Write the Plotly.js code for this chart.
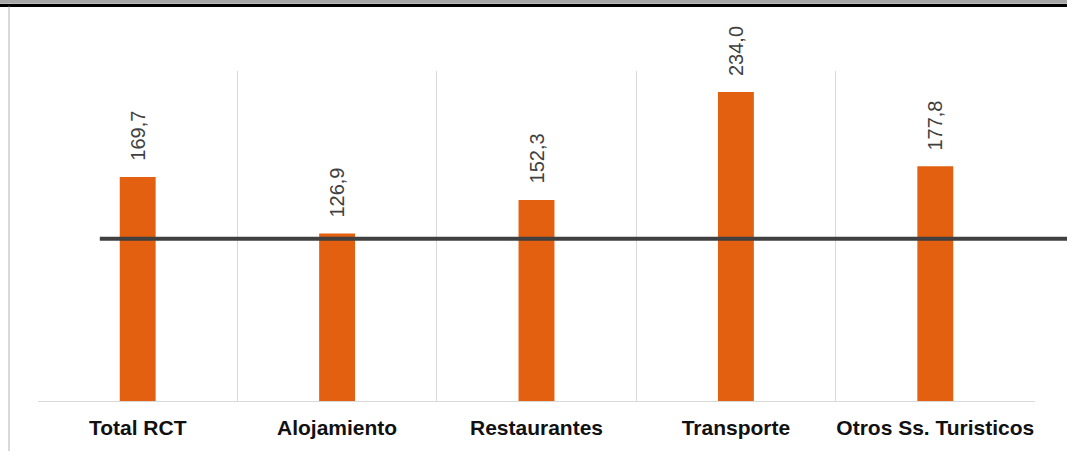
<!DOCTYPE html>
<html>
<head>
<meta charset="utf-8">
<script src="https://cdn.plot.ly/plotly-3.0.1.min.js"></script>
<style>
html,body{margin:0;padding:0;background:#fff;}
#chart{width:1067px;height:451px;}
</style>
</head>
<body>
<div id="chart"></div>
<script>
const categories = ["Total RCT", "Alojamiento", "Restaurantes", "Transporte", "Otros Ss. Turisticos"];
const values = [169.7, 126.9, 152.3, 234.0, 177.8];
const referenceValue = 123.0;

const fmt = v => v.toFixed(1).replace('.', ',');

const bar = {
  type: 'bar',
  x: categories,
  y: values,
  width: 0.18,
  marker: {color: '#E2600F'},
  hoverinfo: 'x+y'
};

const annotations = categories.map((c, i) => ({
  x: c, y: values[i], xref: 'x', yref: 'y',
  text: fmt(values[i]),
  textangle: -90,
  showarrow: false,
  yanchor: 'bottom',
  yshift: 14,
  font: {family: 'Liberation Sans, Arial, sans-serif', size: 20, color: '#404040'}
}));

const layout = {
  width: 1067, height: 451,
  margin: {l: 38, r: 32, t: 71, b: 50},
  paper_bgcolor: '#ffffff',
  plot_bgcolor: '#ffffff',
  showlegend: false,
  xaxis: {
    type: 'category',
    tickson: 'boundaries',
    showgrid: true,
    gridcolor: '#d9d9d9',
    gridwidth: 1,
    showline: true,
    linecolor: '#d9d9d9',
    linewidth: 1,
    ticks: '',
    tickangle: 0,
    automargin: false,
    ticklabelstandoff: 8,
    tickfont: {family: 'Liberation Sans, Arial, sans-serif', size: 21, color: '#111111', weight: 'bold'},
    fixedrange: true
  },
  yaxis: {
    range: [0, 250],
    showgrid: false,
    zeroline: false,
    showticklabels: false,
    showline: false,
    ticks: '',
    fixedrange: true
  },
  annotations: annotations,
  shapes: [
    {type: 'line', xref: 'paper', yref: 'y', x0: 0.062, x1: 1.04, y0: referenceValue, y1: referenceValue,
     line: {color: '#404040', width: 4}},
    {type: 'rect', xref: 'paper', yref: 'paper', x0: -0.05, x1: 1.04, y0: 1.2035, y1: 1.22,
     fillcolor: '#a6a6a6', line: {width: 0}},
    {type: 'line', xref: 'paper', yref: 'paper', x0: -0.05, x1: 1.04, y0: 1.1985, y1: 1.1985,
     line: {color: '#000000', width: 3}},
    {type: 'line', xref: 'paper', yref: 'paper', x0: -0.0291, x1: -0.0291, y0: -0.2, y1: 1.195,
     line: {color: '#d9d9d9', width: 2}}
  ]
};

Plotly.newPlot('chart', [bar], layout, {displayModeBar: false, responsive: false});
</script>
</body>
</html>
